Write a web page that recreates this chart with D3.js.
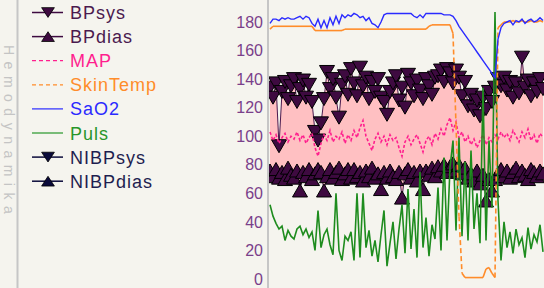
<!DOCTYPE html>
<html>
<head>
<meta charset="utf-8">
<script src="https://cdn.jsdelivr.net/npm/d3@7"></script>
<style>
body { margin: 0; background: #f5f4ee; overflow: hidden; }
svg { display: block; }
text { font-family: "Liberation Sans", Arial, sans-serif; }
</style>
</head>
<body>
<script>
// meetwaarden per sample (92 samples, gelijk verdeeld in de tijd)
var bpSys = [134,127,137,93,131,138,126,135,140,124,133,139,127,136,124,103,97,109,126,145,
  133,140,127,113,136,142,129,147,137,128,148,135,141,126,138,131,140,127,124,115,
  131,137,142,125,134,120,143,137,128,139,132,126,140,135,129,141,142,146,138,147,
  144,137,146,141,128,138,121,129,118,125,114,127,119,131,124,134,140,135,141,132,
  138,127,137,130,155,134,139,128,137,131,140,133];
var bpDias = [76,72,77,71,75,70,78,73,71,76,62,75,72,77,70,74,77,75,62,72,
  77,71,75,78,70,74,77,71,77,72,75,69,76,72,78,71,74,63,75,71,
  76,72,70,75,57,74,77,71,75,69,76,63,76,73,78,72,79,76,80,75,
  79,81,76,80,74,78,71,74,69,76,67,73,55,70,62,70,74,77,72,76,
  71,75,78,72,76,73,70,77,75,72,76,74];
var map = [103,97,101,95,99,102,96,100,98,103,97,101,95,99,102,92,86,95,101,97,
  104,96,100,98,103,95,101,97,104,99,106,111,100,95,90,98,102,96,100,94,
  101,97,99,92,86,96,100,94,98,101,95,89,97,100,94,102,98,105,100,108,
  113,104,110,99,103,96,100,94,98,92,97,101,94,99,96,101,98,103,99,102,
  97,104,100,96,103,99,105,97,101,95,102,99];
var skinTemp = [175,177,177,177,177,177,177,177,177,177,177,177,177,177,177,174,174,174,174,174,
  174,174,174,174,174,175,175,175,175,175,175,175,175,175,175,175,175,175,175,175,
  175,175,175,175,175,175,175,175,175,175,175,175,175,177,178,178,178,178,178,178,
  178,172,108,44,4,1,1,1,1,1,1,1,7,8,4,1,176,178,180,180,
  180,181,180,180,181,180,180,181,180,180,181,180];
var saO2 = [179,182,182,181,183,182,183,182,182,183,184,182,184,183,179,177,182,176,181,176,
  183,178,184,179,185,183,185,184,186,185,183,184,181,183,179,178,176,180,185,186,
  186,186,186,186,186,186,186,186,184,183,185,183,186,186,186,186,186,186,185,185,
  185,184,181,177,174,171,168,165,162,159,156,153,150,147,144,141,168,176,179,180,
  181,178,181,180,182,179,181,182,180,181,183,181];
var puls = [52,44,39,35,37,27,34,30,28,35,37,31,35,29,33,20,48,22,31,35,
  24,17,60,20,13,30,27,33,13,60,15,60,22,34,16,27,12,31,48,9,
  25,40,14,35,52,18,63,21,49,15,75,22,43,16,38,28,64,20,85,27,
  78,97,34,99,30,82,27,90,35,60,25,134,27,97,50,187,55,13,40,22,
  33,18,35,24,29,15,36,21,31,26,38,19];

var yTicks = [0, 20, 40, 60, 80, 100, 120, 140, 160, 180];

var legendNames = ["BPsys", "BPdias", "MAP", "SkinTemp", "SaO2", "Puls", "NIBPsys", "NIBPdias"];
var legendColors = ["#4b1a4f", "#4b1a4f", "#ff1f8e", "#ff8c2a", "#2a2aff", "#27962a", "#1e1e50", "#1e1e50"];

var width = 544;
var height = 288;

var svg = d3.select("body").append("svg")
  .attr("width", width)
  .attr("height", height);

svg.append("rect").attr("width", width).attr("height", height).attr("fill", "#f5f4ee");

// scheidingslijn links en verticale titel
svg.append("line")
  .attr("x1", 17.5).attr("x2", 17.5).attr("y1", 0).attr("y2", height)
  .attr("stroke", "#c6c6c6").attr("stroke-width", 2);

svg.append("text")
  .attr("transform", "translate(3.5,45) rotate(90)")
  .attr("font-size", 14)
  .attr("letter-spacing", 6.5)
  .attr("fill", "#c4c4c4")
  .text("Hemodynamika");

// schalen
var x = d3.scaleLinear().domain([0, bpSys.length - 1]).range([270, 543]);
var y = d3.scaleLinear().domain([0, 180]).range([279, 22]);

// y-as
var axis = svg.append("g")
  .attr("transform", "translate(268,0)")
  .call(d3.axisLeft(y).tickValues(yTicks).tickSize(0).tickPadding(5));
axis.select(".domain").remove();
axis.selectAll("text")
  .attr("font-size", 16)
  .attr("font-family", "\"Liberation Sans\", Arial, sans-serif")
  .attr("fill", "#7a3f8a");

svg.append("line")
  .attr("x1", 268).attr("x2", 268).attr("y1", 0).attr("y2", height)
  .attr("stroke", "#c6c6c6").attr("stroke-width", 2);

svg.append("clipPath").attr("id", "plot")
  .append("rect").attr("x", 269).attr("y", 0).attr("width", width - 269).attr("height", height);

var plot = svg.append("g").attr("clip-path", "url(#plot)");

var triDown = "M-7.5,-6.5L7.5,-6.5L0,6.5Z";
var triUp = "M-7.5,6.5L7.5,6.5L0,-6.5Z";

// roze band tussen systolisch en diastolisch
plot.append("path")
  .datum(bpSys)
  .attr("fill", "#ffc0c2")
  .attr("d", d3.area()
    .x((d, i) => x(i))
    .y0((d, i) => y(bpDias[i]))
    .y1(d => y(d)));

var line = d3.line().x((d, i) => x(i)).y(d => y(d));

// BPsys en BPdias met driehoekjes
[[bpSys, triDown], [bpDias, triUp]].forEach(function (s) {
  plot.append("path")
    .datum(s[0])
    .attr("fill", "none")
    .attr("stroke", "#4b1a4f")
    .attr("stroke-width", 1)
    .attr("d", line);
  plot.selectAll(null)
    .data(s[0])
    .enter()
    .append("path")
    .attr("d", s[1])
    .attr("transform", (d, i) => "translate(" + x(i) + "," + y(d) + ")")
    .attr("fill", "#3e0a40")
    .attr("stroke", "#000")
    .attr("stroke-width", 1);
});

// MAP gestreept
plot.append("path")
  .datum(map)
  .attr("fill", "none")
  .attr("stroke", "#ff1f8e")
  .attr("stroke-width", 1.6)
  .attr("stroke-dasharray", "3,2")
  .attr("d", line);

// pols
plot.append("path")
  .datum(puls)
  .attr("fill", "none")
  .attr("stroke", "#1e8c1e")
  .attr("stroke-width", 1.6)
  .attr("d", line);

// huidtemperatuur: steile stukken gestreept, vlakke stukken doorgetrokken
for (var i = 0; i < skinTemp.length - 1; i++) {
  var y0 = y(skinTemp[i]);
  var y1 = y(skinTemp[i + 1]);
  plot.append("line")
    .attr("x1", x(i)).attr("y1", y0)
    .attr("x2", x(i + 1)).attr("y2", y1)
    .attr("stroke", "#ff8c2a")
    .attr("stroke-width", 1.6)
    .attr("stroke-dasharray", Math.abs(y1 - y0) > 12 ? "5,3" : null);
}

// SaO2
plot.append("path")
  .datum(saO2)
  .attr("fill", "none")
  .attr("stroke", "#2a2aff")
  .attr("stroke-width", 1.4)
  .attr("d", line);

// legende
var legend = svg.append("g");
legendNames.forEach(function (name, k) {
  var ly = 12.5 + k * 24.1;
  var row = legend.append("g").attr("transform", "translate(0," + ly + ")");
  var dashed = name == "MAP" || name == "SkinTemp";
  var marker = ["BPsys", "NIBPsys"].indexOf(name) >= 0 ? triDown : (["BPdias", "NIBPdias"].indexOf(name) >= 0 ? triUp : null);
  var lineColor = marker ? (k < 2 ? "#3e0a40" : "#0a0a3a") : legendColors[k];
  row.append("line")
    .attr("x1", 32).attr("x2", 63).attr("y1", 0).attr("y2", 0)
    .attr("stroke", lineColor)
    .attr("stroke-width", marker ? 1.5 : 1.2)
    .attr("stroke-dasharray", dashed ? "4,3" : null);
  if (marker) {
    row.append("path")
      .attr("d", marker)
      .attr("transform", "translate(48,0) scale(0.85,0.75)")
      .attr("fill", k < 2 ? "#3e0a40" : "#0a0a3a")
      .attr("stroke", "#000");
  }
  row.append("text")
    .attr("x", 70)
    .attr("y", 6.5)
    .attr("font-size", 18)
    .attr("letter-spacing", 1)
    .attr("fill", legendColors[k])
    .text(name);
});
</script>
</body>
</html>
